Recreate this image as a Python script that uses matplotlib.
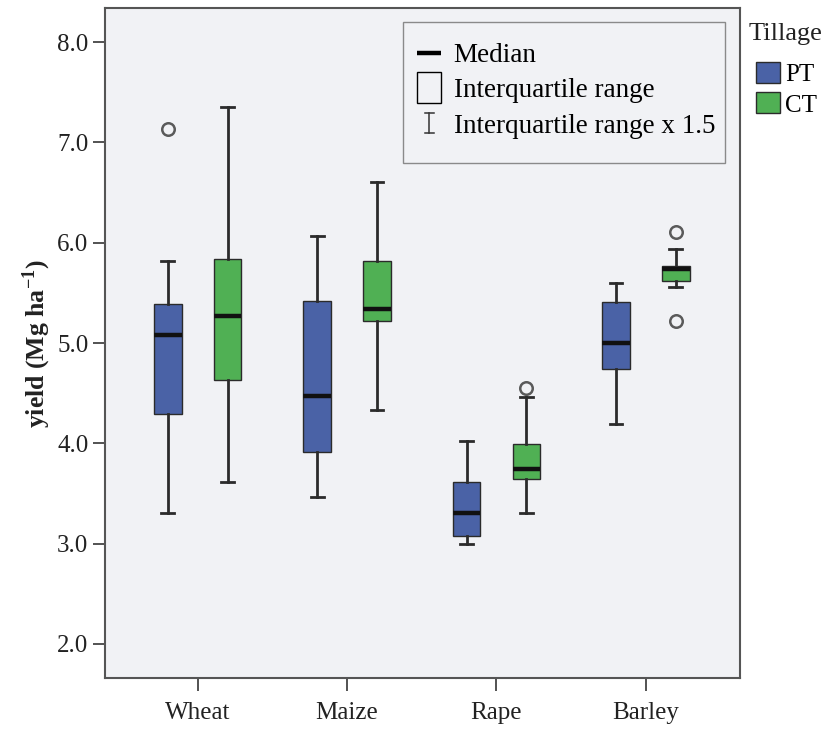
import matplotlib
matplotlib.use("Agg")
import matplotlib.pyplot as plt
from matplotlib.legend_handler import HandlerBase
from matplotlib.lines import Line2D
from matplotlib.patches import Patch, Rectangle

plt.rcParams['font.family'] = ['Liberation Serif', 'DejaVu Serif']
plt.rcParams['mathtext.fontset'] = 'stix'

crops = ['Wheat', 'Maize', 'Rape', 'Barley']
tillage = ['PT', 'CT']

# five-number summaries (Mg/ha)
pt_whislo = [3.31, 3.47, 3.00, 4.19]
pt_q1 = [4.29, 3.91, 3.08, 4.74]
pt_med = [5.08, 4.47, 3.31, 5.00]
pt_q3 = [5.39, 5.42, 3.61, 5.41]
pt_whishi = [5.82, 6.07, 4.02, 5.60]
pt_fliers = [[7.13], [], [], []]

ct_whislo = [3.61, 4.33, 3.31, 5.56]
ct_q1 = [4.63, 5.22, 3.64, 5.62]
ct_med = [5.27, 5.34, 3.74, 5.74]
ct_q3 = [5.84, 5.82, 3.99, 5.77]
ct_whishi = [7.35, 6.60, 4.46, 5.94]
ct_fliers = [[], [], [4.55], [6.11, 5.22]]

yticks = [2.0, 3.0, 4.0, 5.0, 6.0, 7.0, 8.0]

PT_COLOR = '#4a62a6'
CT_COLOR = '#50b054'
BG = '#f1f2f5'
EDGE = '#2b2b2b'

W, H = 827, 729


def make_stats(lo, q1, med, q3, hi, fl):
    return [dict(whislo=a, q1=b, med=c, q3=d, whishi=e, fliers=f)
            for a, b, c, d, e, f in zip(lo, q1, med, q3, hi, fl)]


class HandlerMedian(HandlerBase):
    def create_artists(self, legend, orig_handle, xdescent, ydescent, width, height, fontsize, trans):
        y = -ydescent + height / 2
        line = Line2D([-xdescent, -xdescent + width], [y, y], color='black', lw=3.2,
                      solid_capstyle='butt', transform=trans)
        return [line]


class HandlerBox(HandlerBase):
    def create_artists(self, legend, orig_handle, xdescent, ydescent, width, height, fontsize, trans):
        h = 1.15 * fontsize
        y = -ydescent + height / 2 - h / 2
        rect = Rectangle((-xdescent, y), width, h, facecolor='none', edgecolor='black',
                         lw=1.0, transform=trans)
        return [rect]


class HandlerWhisker(HandlerBase):
    def create_artists(self, legend, orig_handle, xdescent, ydescent, width, height, fontsize, trans):
        cx = -xdescent + width / 2
        h = 0.75 * fontsize
        yc = -ydescent + height / 2
        y0, y1 = yc - h / 2, yc + h / 2
        cw = 0.17 * fontsize
        kw = dict(color='#333333', lw=1.1, transform=trans)
        return [Line2D([cx, cx], [y0, y1], **kw),
                Line2D([cx - cw, cx + cw], [y0, y0], **kw),
                Line2D([cx - cw, cx + cw], [y1, y1], **kw)]


fig = plt.figure(figsize=(W / 100, H / 100), dpi=100)
ax_l, ax_t, ax_r, ax_b = 105, 8, 740, 678
ax = fig.add_axes([ax_l / W, 1 - ax_b / H, (ax_r - ax_l) / W, (ax_b - ax_t) / H])
ax.set_facecolor(BG)


def ax_frac(px, py):
    return (px - ax_l) / (ax_r - ax_l), 1 - (py - ax_t) / (ax_b - ax_t)


offset = 0.2
width = 0.185
groups = [
    (make_stats(pt_whislo, pt_q1, pt_med, pt_q3, pt_whishi, pt_fliers), -offset, PT_COLOR),
    (make_stats(ct_whislo, ct_q1, ct_med, ct_q3, ct_whishi, ct_fliers), offset, CT_COLOR),
]
for stats, off, color in groups:
    pos = [i + off for i in range(len(crops))]
    ax.bxp(stats, positions=pos, widths=width, capwidths=0.085, patch_artist=True,
           boxprops=dict(facecolor=color, edgecolor=EDGE, lw=1.0),
           medianprops=dict(color='#111111', lw=3.2, solid_capstyle='butt'),
           whiskerprops=dict(color='#2b2b2b', lw=2.0),
           capprops=dict(color='#2b2b2b', lw=2.0),
           flierprops=dict(marker='o', markerfacecolor='none', markeredgecolor='#5a5a5a',
                           markersize=9, markeredgewidth=1.8),
           manage_ticks=False, zorder=3)

ax.set_xlim(-0.62, 3.63)
ax.set_ylim(1.661, 8.339)
ax.set_xticks(range(len(crops)))
ax.set_xticklabels(crops, fontsize=18)
ax.set_yticks(yticks)
ax.set_yticklabels([f'{t:.1f}' for t in yticks], fontsize=18)
ax.tick_params(axis='both', direction='out', length=9, width=1.3, colors='#444444',
               labelcolor='#222222', pad=3)
ax.tick_params(axis='x', pad=8)
for s in ax.spines.values():
    s.set_color('#555555')
    s.set_linewidth(1.5)

ax.set_ylabel(r'yield (Mg ha$^{\mathregular{-1}}$)', fontsize=18.5, fontweight='bold',
              labelpad=3, color='#222222')

# key box inside the plot
x0, y1 = ax_frac(403, 22)
x1, y0 = ax_frac(725, 163)
ax.add_patch(Rectangle((x0, y0), x1 - x0, y1 - y0, transform=ax.transAxes,
                       facecolor=BG, edgecolor='#8a8a8a', lw=1.0, zorder=4))
h_med = Line2D([], [])
h_box = Patch()
h_whi = Line2D([0], [0])
leg = ax.legend([h_med, h_box, h_whi],
                ['Median', 'Interquartile range', 'Interquartile range x 1.5'],
                handler_map={h_med: HandlerMedian(), h_box: HandlerBox(), h_whi: HandlerWhisker()},
                loc='upper left', bbox_to_anchor=ax_frac(417, 43), borderaxespad=0,
                fontsize=19.5, frameon=False, handlelength=0.9, handletextpad=0.45,
                labelspacing=0.38, borderpad=0)
leg.set_zorder(5)

fig.text(749 / W, 1 - 34 / H, 'Tillage', fontsize=19, va='center', ha='left', color='#222222')
fig.legend(handles=[Patch(facecolor=PT_COLOR, edgecolor=EDGE, lw=1.0),
                    Patch(facecolor=CT_COLOR, edgecolor=EDGE, lw=1.0)],
           labels=tillage, loc='upper left',
           bbox_to_anchor=(756 / W, 1 - 62 / H), frameon=False, fontsize=18,
           handlelength=0.95, handleheight=0.92, handletextpad=0.2,
           labelspacing=0.25, borderpad=0, borderaxespad=0)

fig.savefig('out.png', dpi=100, facecolor='white')
